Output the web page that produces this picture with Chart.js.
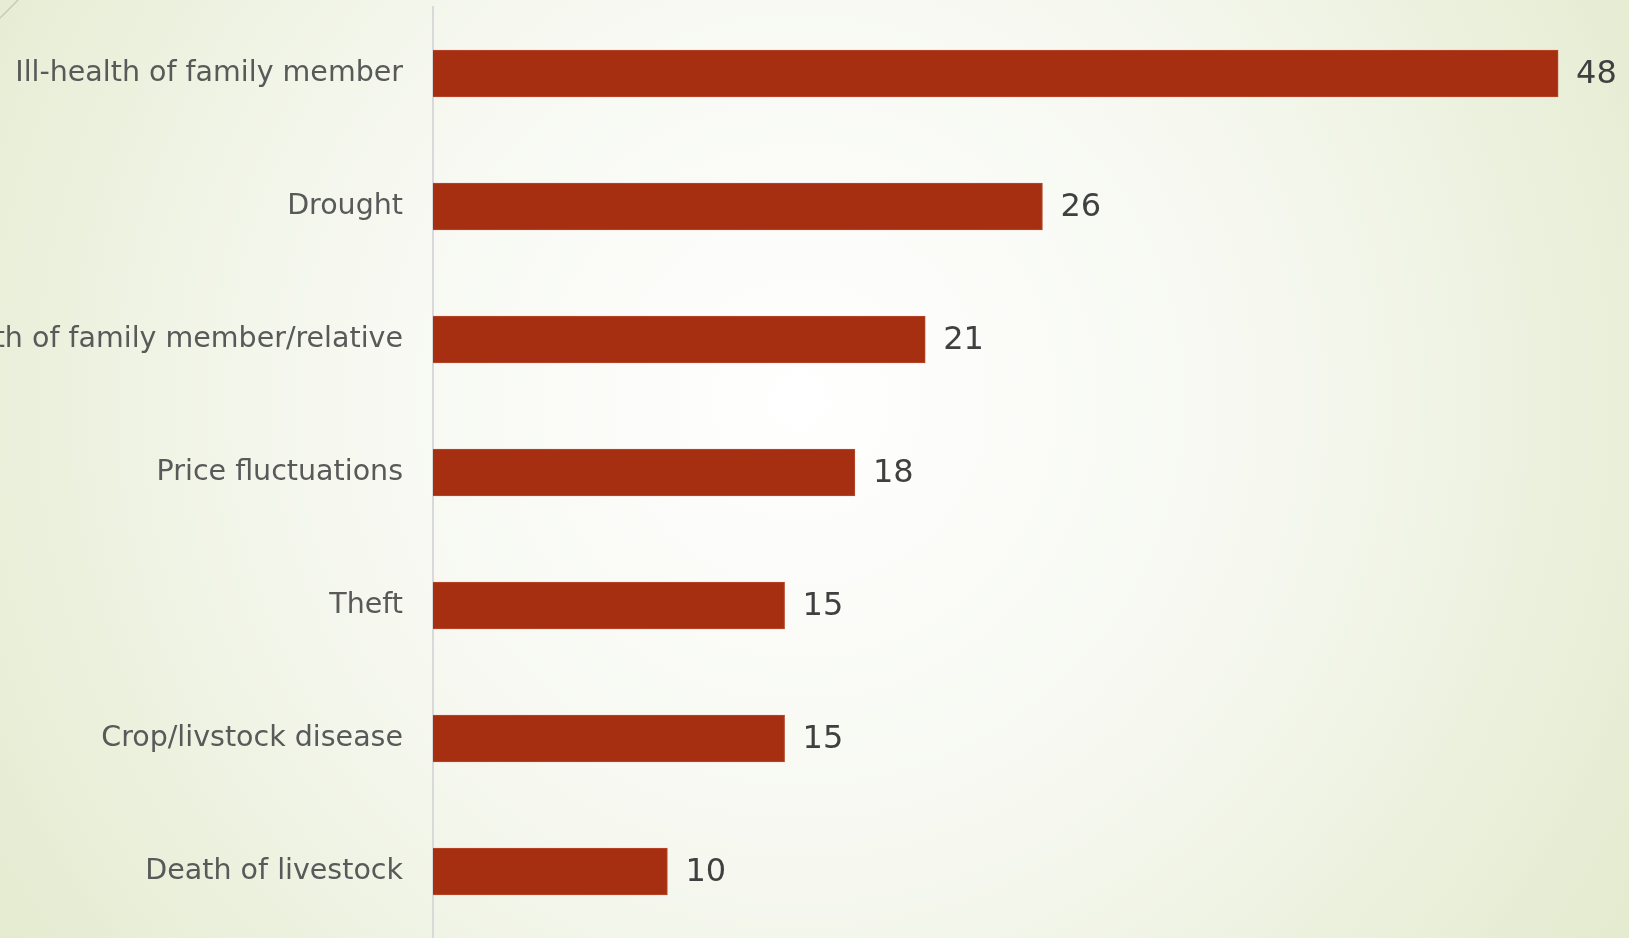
<!DOCTYPE html>
<html>
<head>
<meta charset="utf-8">
<script src="https://cdn.jsdelivr.net/npm/chart.js@4"></script>
<style>
  html, body { margin: 0; padding: 0; overflow: hidden; }
  #wrap { width: 1629px; height: 938px; position: relative; }
</style>
</head>
<body>
<div id="wrap"><canvas id="myChart"></canvas></div>
<script>
// shocks reported by households (%)
var categories = [
    'Ill-health of family member',
    'Drought',
    'Death of family member/relative',
    'Price fluctuations',
    'Theft',
    'Crop/livstock disease',
    'Death of livestock'
];
var values = [48, 26, 21, 18, 15, 15, 10];

// slide style background with a soft radial glow
var backdrop = {
    id: 'backdrop',
    beforeDraw: function (chart) {
        var ctx = chart.ctx;
        var w = chart.width, h = chart.height;
        ctx.save();
        var g = ctx.createRadialGradient(800, 400, 0, 800, 400, 1050);
        g.addColorStop(0, '#ffffff');
        g.addColorStop(0.45, '#f6f8f0');
        g.addColorStop(1, '#e1e9ca');
        ctx.fillStyle = g;
        ctx.fillRect(0, 0, w, h);
        // little diagonal in the corner
        ctx.strokeStyle = '#bfc7ae';
        ctx.lineWidth = 1.2;
        ctx.beginPath();
        ctx.moveTo(0, 18);
        ctx.lineTo(18, 0);
        ctx.stroke();
        ctx.restore();
    }
};

// value at the end of each bar
var barValues = {
    id: 'barValues',
    afterDatasetsDraw: function (chart) {
        var ctx = chart.ctx;
        var meta = chart.getDatasetMeta(0);
        ctx.save();
        ctx.font = '32px "DejaVu Sans"';
        ctx.fillStyle = '#404040';
        ctx.textAlign = 'left';
        ctx.textBaseline = 'middle';
        meta.data.forEach(function (bar, i) {
            ctx.fillText(values[i], bar.x + 18, bar.y + 1);
        });
        ctx.restore();
    }
};

function BuildChart(labels, data) {
    var ctx = document.getElementById('myChart').getContext('2d');
    return new Chart(ctx, {
        type: 'bar',
        data: {
            labels: labels,
            datasets: [{
                data: data,
                backgroundColor: '#a62e11',
                borderColor: '#b84a2e',
                borderWidth: 1,
                borderSkipped: 'left',
                barThickness: 47
            }]
        },
        options: {
            indexAxis: 'y',
            responsive: true,
            maintainAspectRatio: false,
            animation: false,
            layout: { padding: { top: 7, right: 24, bottom: -2, left: 0 } },
            plugins: {
                legend: { display: false },
                tooltip: { enabled: false }
            },
            scales: {
                x: {
                    display: false,
                    min: 0,
                    max: 50
                },
                y: {
                    afterFit: function (scale) {
                        scale.width = 433;
                        // no extra room for half label heights
                        scale.paddingTop = 0;
                        scale.paddingBottom = 0;
                    },
                    grid: { display: false, drawTicks: false },
                    border: { display: true, color: '#d9d9d9', width: 2 },
                    ticks: {
                        padding: 30,
                        color: '#595959',
                        font: { family: '"DejaVu Sans"', size: 28.5 }
                    }
                }
            }
        },
        plugins: [backdrop, barValues]
    });
}

window.onload = function () {
    BuildChart(categories, values);
};
</script>
</body>
</html>
